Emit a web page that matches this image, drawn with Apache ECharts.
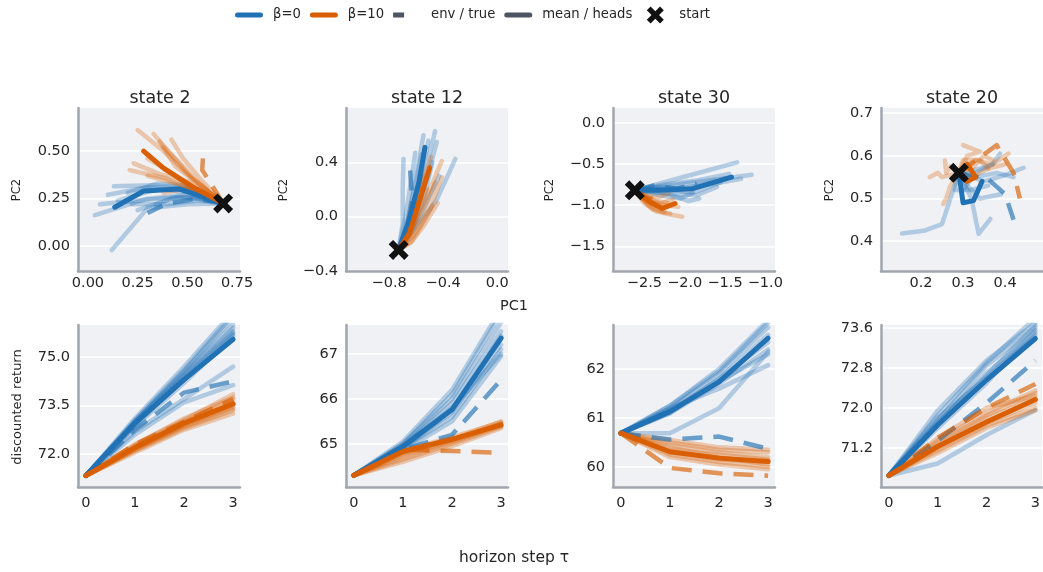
<!DOCTYPE html>
<html>
<head>
<meta charset="utf-8">
<script src="https://cdn.jsdelivr.net/npm/echarts@6/dist/echarts.min.js"></script>
<style>
  html, body { margin: 0; padding: 0; background: #ffffff; }
  #chart { width: 1043px; height: 572px; }
</style>
</head>
<body>
<div id="chart"></div>
<script>
// ---------------- data ----------------
const stateNames = ['state 2', 'state 12', 'state 30', 'state 20'];

// Top row: trajectories in (PC1, PC2); each list holds steps 1..3, step 0 is the start point.
const pcStart = [[0.68, 0.225], [-0.73, -0.245], [-2.62, -0.82], [0.29, 0.56]];

const pcB0Mean = [
  [[0.46, 0.30], [0.28, 0.29], [0.135, 0.205]],
  [[-0.66, -0.05], [-0.58, 0.25], [-0.535, 0.51]],
  [[-2.30, -0.82], [-1.90, -0.80], [-1.42, -0.66]],
  [[0.30, 0.49], [0.325, 0.495], [0.345, 0.54]]
];
const pcB0Env = [
  [[0.55, 0.25], [0.40, 0.225], [0.30, 0.175]],
  [[-0.66, -0.10], [-0.63, 0.12], [-0.645, 0.34]],
  [[-2.38, -0.76], [-2.10, -0.80], [-1.85, -0.74]],
  [[0.36, 0.545], [0.40, 0.51], [0.42, 0.45]]
];
const pcB0Heads = [
  [
    [[0.50, 0.22], [0.30, 0.20], [0.12, -0.02]],
    [[0.50, 0.27], [0.30, 0.25], [0.035, 0.163]],
    [[0.48, 0.26], [0.25, 0.24], [0.06, 0.22]],
    [[0.50, 0.31], [0.33, 0.32], [0.13, 0.315]],
    [[0.52, 0.28], [0.35, 0.30], [0.15, 0.24]],
    [[0.55, 0.24], [0.40, 0.22], [0.22, 0.22]],
    [[0.50, 0.30], [0.30, 0.31], [0.10, 0.27]],
    [[0.55, 0.26], [0.42, 0.25], [0.25, 0.19]],
    [[0.48, 0.32], [0.35, 0.33], [0.20, 0.28]],
    [[0.56, 0.25], [0.45, 0.26], [0.34, 0.22]]
  ],
  [
    [[-0.70, -0.05], [-0.70, 0.20], [-0.694, 0.425]],
    [[-0.66, -0.02], [-0.60, 0.30], [-0.546, 0.60]],
    [[-0.63, 0.00], [-0.53, 0.35], [-0.46, 0.63]],
    [[-0.64, -0.05], [-0.52, 0.28], [-0.447, 0.55]],
    [[-0.62, -0.10], [-0.45, 0.12], [-0.31, 0.425]],
    [[-0.68, 0.00], [-0.64, 0.25], [-0.607, 0.47]],
    [[-0.65, -0.03], [-0.57, 0.28], [-0.51, 0.56]],
    [[-0.63, -0.08], [-0.54, 0.15], [-0.48, 0.40]],
    [[-0.67, -0.06], [-0.61, 0.22], [-0.56, 0.46]],
    [[-0.64, -0.12], [-0.55, 0.05], [-0.43, 0.30]]
  ],
  [
    [[-2.25, -0.72], [-1.80, -0.60], [-1.35, -0.48]],
    [[-2.20, -0.76], [-1.70, -0.70], [-1.17, -0.63]],
    [[-2.30, -0.80], [-1.90, -0.85], [-1.55, -0.72]],
    [[-2.20, -0.86], [-1.95, -0.95], [-1.82, -0.92]],
    [[-2.25, -0.75], [-1.85, -0.70], [-1.45, -0.62]],
    [[-2.30, -0.85], [-1.85, -0.88], [-1.60, -0.78]],
    [[-2.20, -0.80], [-1.75, -0.76], [-1.30, -0.68]],
    [[-2.35, -0.78], [-2.00, -0.80], [-1.62, -0.70]],
    [[-2.30, -0.88], [-2.05, -0.92], [-1.90, -0.85]]
  ],
  [
    [[0.25, 0.44], [0.21, 0.425], [0.155, 0.418]],
    [[0.32, 0.50], [0.337, 0.417], [0.365, 0.452]],
    [[0.35, 0.54], [0.40, 0.555], [0.444, 0.572]],
    [[0.34, 0.57], [0.37, 0.58], [0.388, 0.605]],
    [[0.31, 0.53], [0.34, 0.50], [0.39, 0.51]],
    [[0.28, 0.52], [0.32, 0.52], [0.36, 0.53]],
    [[0.33, 0.55], [0.38, 0.56], [0.42, 0.55]],
    [[0.30, 0.52], [0.33, 0.56], [0.37, 0.58]]
  ]
];

const pcB10Mean = [
  [[0.53, 0.31], [0.38, 0.41], [0.28, 0.50]],
  [[-0.65, -0.12], [-0.58, 0.10], [-0.50, 0.36]],
  [[-2.45, -0.95], [-2.28, -1.04], [-2.12, -0.98]],
  [[0.31, 0.58], [0.33, 0.55], [0.31, 0.54]]
];
const pcB10Env = [
  [[0.63, 0.31], [0.575, 0.40], [0.58, 0.49]],
  [[-0.67, -0.14], [-0.61, 0.03], [-0.55, 0.22]],
  [[-2.50, -0.90], [-2.38, -0.93], [-2.28, -0.88]],
  [[0.38, 0.625], [0.42, 0.56], [0.435, 0.50]]
];
const pcB10Heads = [
  [
    [[0.50, 0.38], [0.38, 0.50], [0.25, 0.61]],
    [[0.52, 0.36], [0.42, 0.48], [0.33, 0.59]],
    [[0.55, 0.33], [0.44, 0.42], [0.36, 0.55]],
    [[0.50, 0.34], [0.36, 0.38], [0.23, 0.435]],
    [[0.52, 0.30], [0.38, 0.36], [0.21, 0.40]],
    [[0.54, 0.35], [0.45, 0.45], [0.38, 0.52]],
    [[0.55, 0.30], [0.44, 0.33], [0.30, 0.37]],
    [[0.56, 0.36], [0.48, 0.46], [0.42, 0.56]],
    [[0.50, 0.32], [0.40, 0.40], [0.30, 0.46]],
    [[0.58, 0.28], [0.48, 0.30], [0.38, 0.28]]
  ],
  [
    [[-0.64, -0.10], [-0.52, 0.15], [-0.41, 0.41]],
    [[-0.62, -0.14], [-0.50, 0.05], [-0.41, 0.29]],
    [[-0.66, -0.08], [-0.58, 0.18], [-0.49, 0.44]],
    [[-0.65, -0.15], [-0.55, 0.02], [-0.46, 0.25]],
    [[-0.67, -0.12], [-0.61, 0.08], [-0.54, 0.30]],
    [[-0.63, -0.18], [-0.54, -0.06], [-0.44, 0.10]],
    [[-0.66, -0.16], [-0.59, 0.00], [-0.52, 0.20]],
    [[-0.64, -0.19], [-0.57, -0.08], [-0.48, 0.08]]
  ],
  [
    [[-2.45, -1.00], [-2.25, -1.10], [-2.03, -1.14]],
    [[-2.50, -0.98], [-2.35, -1.08], [-2.18, -1.10]],
    [[-2.45, -0.92], [-2.30, -0.98], [-2.15, -0.93]],
    [[-2.50, -0.95], [-2.40, -1.05], [-2.25, -1.08]],
    [[-2.48, -0.88], [-2.32, -0.90], [-2.20, -0.86]],
    [[-2.42, -0.96], [-2.25, -1.00], [-2.08, -1.02]],
    [[-2.52, -0.93], [-2.40, -1.00], [-2.30, -1.02]],
    [[-2.46, -0.90], [-2.36, -0.95], [-2.22, -0.97]]
  ],
  [
    [[0.31, 0.60], [0.34, 0.61], [0.30, 0.625]],
    [[0.27, 0.575], [0.26, 0.56], [0.257, 0.589]],
    [[0.27, 0.53], [0.26, 0.50], [0.253, 0.487]],
    [[0.25, 0.55], [0.24, 0.56], [0.221, 0.55]],
    [[0.33, 0.59], [0.37, 0.58], [0.408, 0.605]],
    [[0.32, 0.57], [0.35, 0.60], [0.37, 0.59]],
    [[0.30, 0.59], [0.34, 0.59], [0.36, 0.57]],
    [[0.32, 0.55], [0.36, 0.57], [0.40, 0.58]]
  ]
];

// Bottom row: discounted return at horizon steps 1..3; step 0 is the shared start value.
const horizonSteps = [0, 1, 2, 3];
const retStart = [71.33, 64.30, 60.69, 70.65];

const retB0Mean = [
  [72.95, 74.30, 75.55],
  [64.94, 65.76, 67.35],
  [61.13, 61.74, 62.63],
  [71.66, 72.56, 73.39]
];
const retB0Env = [
  [72.75, 73.90, 74.25],
  [64.87, 65.20, 66.42],
  [60.56, 60.62, 60.37],
  [71.35, 72.10, 72.95]
];
const retB0Heads = [
  [[73.05, 74.6, 76.3], [73.0, 74.5, 76.0], [72.95, 74.4, 75.8], [73.1, 74.7, 76.4],
   [72.9, 74.3, 75.7], [73.0, 74.45, 75.9], [72.85, 74.2, 75.65], [72.7, 73.7, 74.7],
   [72.6, 73.6, 74.13], [72.95, 74.35, 75.75], [73.0, 74.55, 76.2]],
  [[65.0, 66.1, 67.9], [65.05, 66.2, 68.0], [64.95, 65.9, 67.5], [64.9, 65.7, 67.2],
   [64.95, 65.8, 67.0], [64.9, 65.6, 67.1], [65.0, 66.0, 67.7], [64.92, 65.75, 67.4],
   [64.85, 65.5, 66.95]],
  [[61.25, 61.95, 62.95], [61.2, 61.9, 62.85], [61.15, 61.8, 62.7], [61.1, 61.7, 62.4],
   [61.15, 61.75, 62.3], [61.2, 61.6, 62.08], [60.69, 61.2, 62.35], [61.25, 62.0, 63.0],
   [61.1, 61.8, 62.55]],
  [[71.85, 72.9, 73.8], [71.75, 72.85, 73.6], [71.7, 72.7, 73.5], [71.95, 72.95, 73.7],
   [71.6, 72.5, 73.55], [71.8, 72.6, 73.45], [70.89, 71.46, 71.96], [71.7, 72.65, 73.65]]
];

const retB10Mean = [
  [72.20, 72.95, 73.55],
  [64.83, 65.10, 65.42],
  [60.31, 60.18, 60.11],
  [71.23, 71.72, 72.17]
];
const retB10Env = [
  [72.30, 73.00, 73.70],
  [64.87, 64.84, 64.80],
  [59.98, 59.87, 59.82],
  [71.40, 72.00, 72.48]
];
const retB10Heads = [
  [[72.25, 73.0, 73.7], [72.15, 72.9, 73.5], [72.3, 73.05, 73.85], [72.1, 72.8, 73.35],
   [72.2, 72.95, 73.6], [72.05, 72.75, 73.25], [72.28, 73.1, 73.75], [72.18, 72.88, 73.45],
   [72.12, 72.85, 73.4]],
  [[64.75, 65.05, 65.4], [64.7, 65.05, 65.45], [64.8, 65.1, 65.5], [64.65, 65.0, 65.38],
   [64.85, 65.15, 65.48], [64.6, 64.95, 65.35], [64.78, 65.08, 65.45]],
  [[60.35, 60.25, 60.15], [60.45, 60.3, 60.2], [60.25, 60.1, 60.0], [60.5, 60.35, 60.3],
   [60.2, 60.05, 59.95], [60.4, 60.2, 60.05], [60.55, 60.4, 60.35], [60.3, 60.15, 60.1]],
  [[71.3, 71.85, 72.3], [71.2, 71.7, 72.1], [71.35, 71.9, 72.35], [71.15, 71.65, 72.0],
   [71.25, 71.8, 72.2], [71.1, 71.6, 71.95], [71.4, 72.0, 72.25]]
];

// Axis extents and tick labels
const pcXRange = [[-0.05, 0.765], [-1.12, 0.08], [-2.89, -0.88], [0.105, 0.49]];
const pcYRange = [[-0.13, 0.726], [-0.4, 0.8], [-1.8, 0.18], [0.33, 0.712]];
const pcXTicks = [[0, 0.25, 0.5, 0.75], [-0.8, -0.4, 0], [-2.5, -2.0, -1.5, -1.0], [0.2, 0.3, 0.4]];
const pcYTicks = [[0, 0.25, 0.5], [-0.4, 0, 0.4], [-1.5, -1.0, -0.5, 0], [0.4, 0.5, 0.6, 0.7]];
const pcXDecimals = [2, 1, 1, 1];
const pcYDecimals = [2, 1, 1, 1];

const retXRange = [-0.16, 3.14];
const retYRange = [[70.98, 75.99], [64.04, 67.64], [59.59, 62.9], [70.42, 73.66]];
const retYTicks = [[72.0, 73.5, 75.0], [65, 66, 67], [60, 61, 62], [71.2, 72.0, 72.8, 73.6]];
const retYDecimals = [1, 0, 0, 1];

// ---------------- styling & layout ----------------
const BLUE = '#2171b5';
const ORANGE = '#d95f02';
const GRAY = '#4e5562';
const INK = '#262626';
const FONT = 'DejaVu Sans';
const PANEL_BG = '#eff1f4';
const SPINE = '#a0a5ae';

const COL_LEFT = [78, 346, 613, 881];
const PLOT_W = 162;
const ROW_TOP = [108, 325];
const ROW_H = [163, 162];

function fmt(dec) {
  return v => Number(v).toFixed(dec).replace('-', '\u2212');
}

// filled "X" marker path within [x0, x0+s] x [y0, y0+s]
function xPath(x0, y0, s, a) {
  const h = s / 2;
  const p = [
    [x0, y0 + a], [x0 + a, y0], [x0 + h, y0 + h - a], [x0 + s - a, y0], [x0 + s, y0 + a],
    [x0 + h + a, y0 + h], [x0 + s, y0 + s - a], [x0 + s - a, y0 + s], [x0 + h, y0 + h + a],
    [x0 + a, y0 + s], [x0, y0 + s - a], [x0 + h - a, y0 + h]
  ];
  return 'M' + p.map(q => q[0] + ',' + q[1]).join(' L') + ' Z';
}

const BOX_CORNERS = 'M0,0 L0.01,0 Z M33,18 L32.99,18 Z ';
const ICON_LINE = 'path://' + BOX_CORNERS + 'M2.5,6.5 L25.5,6.5 A2.5,2.5 0 0 1 25.5,11.5 L2.5,11.5 A2.5,2.5 0 0 1 2.5,6.5 Z';
const ICON_DASH = 'path://' + BOX_CORNERS + 'M0,6.5 L11,6.5 L11,11.5 L0,11.5 Z';
const ICON_X = 'path://' + BOX_CORNERS + xPath(5.5, 0.5, 17, 3.8);
const START_SYMBOL = 'path://' + xPath(0, 0, 20, 4.4);

const grids = [], xAxes = [], yAxes = [], series = [];

function axisCommon(dec, ticks, margin) {
  return {
    type: 'value',
    axisLine: { show: true, onZero: false, lineStyle: { color: SPINE, width: 2.5 } },
    axisTick: { show: false, customValues: ticks },
    axisLabel: {
      customValues: ticks, formatter: fmt(dec), margin: margin,
      color: INK, fontFamily: FONT, fontSize: 14.5
    }
  };
}

function addGrid(row, col) {
  grids.push({
    left: COL_LEFT[col], top: ROW_TOP[row], width: PLOT_W, height: ROW_H[row],
    show: true, backgroundColor: PANEL_BG, borderWidth: 0, containLabel: false
  });
  return grids.length - 1;
}

function lineStyleFor(kind, color) {
  if (kind === 'head') return { color: color, width: 4.5, opacity: 0.3, cap: 'round', join: 'round' };
  if (kind === 'env') return { color: color, width: 4.5, opacity: 0.65, type: [20, 11], cap: 'butt', join: 'round' };
  return { color: color, width: 5, opacity: 1, cap: 'round', join: 'round' };
}

function addLine(name, gi, pts, color, kind) {
  series.push({
    type: 'line', name: name, xAxisIndex: gi, yAxisIndex: gi,
    data: pts, symbol: 'none', showSymbol: false, silent: true, clip: true,
    z: kind === 'head' ? 2 : (kind === 'env' ? 3 : 4),
    itemStyle: { color: color },
    lineStyle: lineStyleFor(kind, color)
  });
}

// top row: PC trajectories
for (let c = 0; c < 4; c++) {
  const gi = addGrid(0, c);
  const xa = axisCommon(pcXDecimals[c], pcXTicks[c], 5);
  xa.gridIndex = gi; xa.min = pcXRange[c][0]; xa.max = pcXRange[c][1];
  xa.splitLine = { show: false };
  xAxes.push(xa);
  const ya = axisCommon(pcYDecimals[c], pcYTicks[c], 8);
  ya.gridIndex = gi; ya.min = pcYRange[c][0]; ya.max = pcYRange[c][1];
  ya.splitLine = { show: true, lineStyle: { color: '#ffffff', width: 1.5 } };
  yAxes.push(ya);

  const s = pcStart[c];
  pcB0Heads[c].forEach(h => addLine('β=0', gi, [s].concat(h), BLUE, 'head'));
  pcB10Heads[c].forEach(h => addLine('β=10', gi, [s].concat(h), ORANGE, 'head'));
  addLine('β=0', gi, [s].concat(pcB0Env[c]), BLUE, 'env');
  addLine('β=10', gi, [s].concat(pcB10Env[c]), ORANGE, 'env');
  addLine('β=0', gi, [s].concat(pcB0Mean[c]), BLUE, 'mean');
  addLine('β=10', gi, [s].concat(pcB10Mean[c]), ORANGE, 'mean');
  series.push({
    type: 'scatter', name: 'start', xAxisIndex: gi, yAxisIndex: gi,
    data: [s], symbol: START_SYMBOL, symbolSize: 20, silent: true, z: 6,
    itemStyle: { color: '#111111', opacity: 1 }
  });
}

// bottom row: discounted return vs horizon step
function withSteps(start, vals) {
  return [start].concat(vals).map((v, i) => [horizonSteps[i], v]);
}
for (let c = 0; c < 4; c++) {
  const gi = addGrid(1, c);
  const xa = axisCommon(0, horizonSteps, 9);
  xa.gridIndex = gi; xa.min = retXRange[0]; xa.max = retXRange[1];
  xa.splitLine = { show: false };
  xAxes.push(xa);
  const ya = axisCommon(retYDecimals[c], retYTicks[c], 8);
  ya.gridIndex = gi; ya.min = retYRange[c][0]; ya.max = retYRange[c][1];
  ya.splitLine = { show: true, lineStyle: { color: '#ffffff', width: 1.5 } };
  yAxes.push(ya);

  const s = retStart[c];
  retB0Heads[c].forEach(h => addLine('β=0', gi, withSteps(s, h), BLUE, 'head'));
  retB10Heads[c].forEach(h => addLine('β=10', gi, withSteps(s, h), ORANGE, 'head'));
  addLine('β=0', gi, withSteps(s, retB0Env[c]), BLUE, 'env');
  addLine('β=10', gi, withSteps(s, retB10Env[c]), ORANGE, 'env');
  addLine('β=0', gi, withSteps(s, retB0Mean[c]), BLUE, 'mean');
  addLine('β=10', gi, withSteps(s, retB10Mean[c]), ORANGE, 'mean');
}

// legend-only entries for the line-kind keys
series.push({ type: 'line', name: 'env / true', xAxisIndex: 0, yAxisIndex: 0, data: [], itemStyle: { color: GRAY } });
series.push({ type: 'line', name: 'mean / heads', xAxisIndex: 0, yAxisIndex: 0, data: [], itemStyle: { color: GRAY } });

function legendItem(name, icon, color) {
  return { name: name, icon: icon, itemStyle: { color: color, opacity: 1, borderWidth: 0 } };
}

const txt = (x, y, text, size, rot) => ({
  type: 'text', x: x, y: y, rotation: rot || 0, silent: true,
  style: {
    text: text, fill: INK, font: size + 'px "' + FONT + '"',
    textAlign: 'center', textVerticalAlign: 'middle', align: 'center', verticalAlign: 'middle'
  }
});

const graphics = [
  txt(160, 98, stateNames[0], 17.5),
  txt(427, 98, stateNames[1], 17.5),
  txt(694, 98, stateNames[2], 17.5),
  txt(962, 98, stateNames[3], 17.5),
  txt(17, 190, 'PC2', 11.5, Math.PI / 2),
  txt(284, 190, 'PC2', 11.5, Math.PI / 2),
  txt(550, 190, 'PC2', 11.5, Math.PI / 2),
  txt(830, 190, 'PC2', 11.5, Math.PI / 2),
  txt(514, 306, 'PC1', 14.5),
  txt(18, 407, 'discounted return', 13, Math.PI / 2),
  txt(514, 558, 'horizon step τ', 15.5)
];

const chart = echarts.init(document.getElementById('chart'), null, { renderer: 'canvas' });
chart.setOption({
  animation: false,
  backgroundColor: '#ffffff',
  textStyle: { fontFamily: FONT },
  legend: {
    left: 235, top: 6, padding: 0, itemGap: 9, itemWidth: 33, itemHeight: 18,
    selectedMode: false, symbolKeepAspect: false,
    textStyle: { fontFamily: FONT, fontSize: 13.2, color: INK },
    data: [
      legendItem('β=0', ICON_LINE, BLUE),
      legendItem('β=10', ICON_LINE, ORANGE),
      legendItem('env / true', ICON_DASH, GRAY),
      legendItem('mean / heads', ICON_LINE, GRAY),
      legendItem('start', ICON_X, '#111111')
    ]
  },
  grid: grids,
  xAxis: xAxes,
  yAxis: yAxes,
  series: series,
  graphic: graphics
});
</script>
</body>
</html>
